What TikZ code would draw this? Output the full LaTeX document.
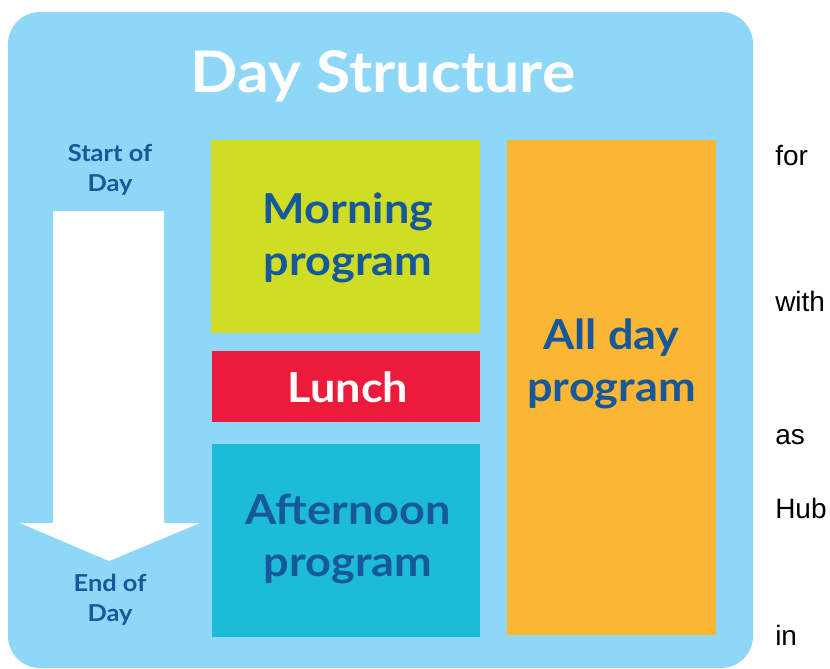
\documentclass[tikz,border=0pt]{standalone}
\usepackage{fontspec}
\setmainfont{Lato}[FakeStretch=1.09]
\newfontfamily\plainfont{Liberation Sans}
\definecolor{skyback}{HTML}{8ED7F6}
\definecolor{limebox}{HTML}{CFDD24}
\definecolor{redbox}{HTML}{EC1B3B}
\definecolor{tealbox}{HTML}{1DBCD6}
\definecolor{orangebox}{HTML}{FBB634}
\definecolor{navytext}{HTML}{17589A}
\begin{document}
\begin{tikzpicture}[x=0.75pt,y=-0.75pt,
  block/.style={inner sep=0pt,outer sep=0pt},
  bigtext/.style={font=\fontsize{31}{38.5}\selectfont\bfseries,text=navytext,align=center,inner sep=0pt},
  smalltext/.style={font=\fontsize{17.5}{22.5}\selectfont\bfseries,text=navytext,align=center,inner sep=0pt},
  sidetext/.style={font=\plainfont\fontsize{21}{24}\selectfont,text=black,anchor=base west,inner sep=0pt}]
\useasboundingbox (0,0) rectangle (830,668);
% rounded panel behind everything
\fill[skyback,rounded corners=24pt] (8,12) rectangle (753,668);
% title
\node[font=\fontsize{43}{50}\selectfont\bfseries,text=white,inner sep=0pt] (title) at (383,76) {Day Structure};
% time arrow
\fill[white] (53,211) -- (164,211) -- (164,523) -- (200,523) -- (109,561) -- (20,523) -- (53,523) -- cycle;
\node[smalltext] (start) at (110,170) {Start of\\Day};
\node[smalltext] (end) at (110,600) {End of\\Day};
% day blocks
\node[block,fill=limebox,minimum width={269*0.75pt},minimum height={193*0.75pt}] (morning) at (345.5,236) {};
\node[bigtext] (morningtxt) at (348,238) {Morning\\program};
\node[block,fill=redbox,minimum width={268*0.75pt},minimum height={71*0.75pt}] (lunch) at (345.5,386.5) {};
\node[bigtext,text=white] (lunchtxt) at (348,387) {Lunch};
\node[block,fill=tealbox,minimum width={268*0.75pt},minimum height={193*0.75pt}] (afternoon) at (345.5,540.5) {};
\node[bigtext] (afternoontxt) at (348,539) {Afternoon\\program};
\node[block,fill=orangebox,minimum width={209*0.75pt},minimum height={495*0.75pt}] (allday) at (611.5,387.5) {};
\node[bigtext] (alldaytxt) at (611.5,364) {All day\\program};
% words beside the panel
\node[sidetext] (w1) at (775,165) {for};
\node[sidetext] (w2) at (775,311) {with};
\node[sidetext] (w3) at (775,444) {as};
\node[sidetext] (w4) at (775,518) {Hub};
\node[sidetext] (w5) at (775,645) {in};
\end{tikzpicture}
\end{document}
